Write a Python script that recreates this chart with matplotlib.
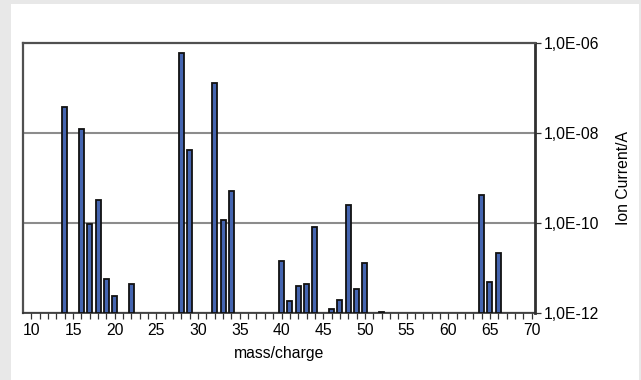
import matplotlib
matplotlib.use("Agg")
import matplotlib.pyplot as plt
from matplotlib.patches import Rectangle
from matplotlib.ticker import FixedLocator, NullFormatter

# Mass spectrum: ion current per mass/charge channel
mass = [14, 16, 17, 18, 19, 20, 22, 28, 29, 32, 33, 34,
        40, 41, 42, 43, 44, 46, 47, 48, 49, 50, 52, 64, 65, 66]
current = [3.8e-8, 1.2e-8, 9.3e-11, 3.2e-10, 5.7e-12, 2.4e-12, 4.3e-12,
           6.0e-7, 4.2e-9, 1.3e-7, 1.17e-10, 5.1e-10,
           1.45e-11, 1.85e-12, 4.0e-12, 4.5e-12, 8.0e-11, 1.23e-12,
           1.95e-12, 2.5e-10, 3.5e-12, 1.27e-11, 1.05e-12,
           4.2e-10, 5.0e-12, 2.2e-11]

x_major = [10, 15, 20, 25, 30, 35, 40, 45, 50, 55, 60, 65, 70]
y_ticks = [1e-12, 1e-10, 1e-8, 1e-6]
y_labels = ["1,0E-12", "1,0E-10", "1,0E-08", "1,0E-06"]

W, H = 641, 380
fig = plt.figure(figsize=(W / 100, H / 100), dpi=100, facecolor="#e8e8e8")
plt.rcParams["font.family"] = ["Liberation Sans", "DejaVu Sans"]
FS = 11.3

# white chart panel
fig.patches.append(Rectangle((11 / W, 0), (639 - 11) / W, (380 - 4) / H,
                             transform=fig.transFigure, facecolor="white",
                             edgecolor="none", zorder=-10))

ax = fig.add_axes([23 / W, (H - 313) / H, (535 - 23) / W, (313 - 43) / H])
ax.set_facecolor("white")
ax.set_yscale("log")
ax.set_ylim(1e-12, 1e-6)
ax.set_xlim(9.0, 70.4)

bottom = 1e-12
heights = [c - bottom for c in current]
ax.bar(mass, heights, bottom=bottom, width=0.6, color="#4565b0",
       edgecolor="#111111", linewidth=1.3, zorder=3)

# horizontal gridlines
for v in [1e-8, 1e-10]:
    ax.axhline(v, color="#8c8c8c", linewidth=1.5, zorder=1)

# floor
ax.axhline(1e-12, color="#9a9a9a", linewidth=2.5, zorder=2)

for s in ["top", "left"]:
    ax.spines[s].set_color("#505050")
    ax.spines[s].set_linewidth(1.6)
ax.spines["right"].set_color("#303030")
ax.spines["right"].set_linewidth(2.0)
ax.spines["bottom"].set_color("#303030")
ax.spines["bottom"].set_linewidth(1.2)

ax.xaxis.set_major_locator(FixedLocator(x_major))
ax.xaxis.set_minor_locator(FixedLocator(list(range(10, 71))))
ax.xaxis.set_minor_formatter(NullFormatter())
ax.tick_params(axis="x", which="both", direction="out", length=4,
               width=0.9, color="#333333", labelsize=FS, pad=3)

ax.yaxis.tick_right()
ax.yaxis.set_label_position("right")
ax.set_yticks(y_ticks)
ax.set_yticklabels(y_labels)
ax.yaxis.set_minor_locator(FixedLocator([]))
ax.tick_params(axis="y", which="major", direction="out", length=4,
               width=0.9, color="#333333", labelsize=FS, pad=2)

ax.set_xlabel("mass/charge", fontsize=FS, labelpad=6)
ax.set_ylabel("Ion Current/A", fontsize=FS, labelpad=12)

fig.savefig("out.png", dpi=100, facecolor=fig.get_facecolor())
